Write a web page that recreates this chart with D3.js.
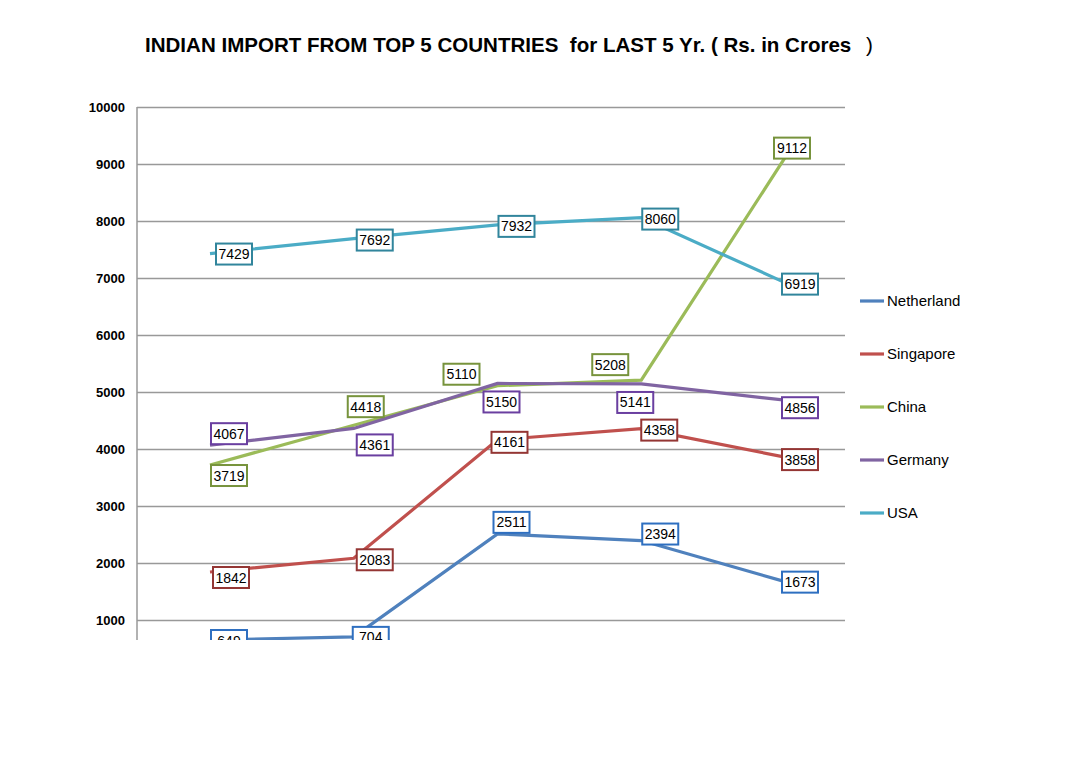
<!DOCTYPE html>
<html>
<head>
<meta charset="utf-8">
<script src="https://d3js.org/d3.v7.min.js"></script>
<style>
html,body{margin:0;background:#fff;}
text{font-family:"Liberation Sans",Arial,sans-serif;}
</style>
</head>
<body>
<script>
var years=["Y1","Y2","Y3","Y4","Y5"];
var seriesNames=["Netherland","Singapore","China","Germany","USA"];
var netherland=[649,704,2511,2394,1673];
var singapore=[1842,2083,4161,4358,3858];
var china=[3719,4418,5110,5208,9112];
var germany=[4067,4361,5150,5141,4856];
var usa=[7429,7692,7932,8060,6919];
var yTicks=[1000,2000,3000,4000,5000,6000,7000,8000,9000,10000];

var colors=["#4F81BD","#C0504D","#9BBB59","#8064A2","#4BACC6"];
var boxColors=["#2E6FC0","#943634","#77933C","#6A3FA0","#31859C"];
// label offsets from the point, per series/point
var offs=[
 [[19,0],[17,0],[14,-12],[19,-7],[15,0]],
 [[21,5],[21,1],[12,2],[18,1],[15,2]],
 [[19,10],[12,-19],[-36,-12],[-31,-16],[7,-10]],
 [[19,-12],[21,16],[4,18],[-6,18],[15,7]],
 [[24,0],[21,1],[19,1],[19,1],[15,1]]
];

var data=[netherland,singapore,china,germany,usa];

var svg=d3.select("body").append("svg").attr("width",1076).attr("height",760);

var x=d3.scalePoint().domain(years).range([210,785]);
var y=d3.scaleLinear().domain([0,10000]).range([677,107]);

svg.append("clipPath").attr("id","clip").append("rect")
 .attr("x",0).attr("y",0).attr("width",1076).attr("height",640);

var g=svg.append("g").attr("clip-path","url(#clip)");

var yAxis=d3.axisLeft(y).tickValues(yTicks).tickFormat(d3.format("d")).tickSize(-708).tickPadding(12);
var ga=g.append("g").attr("transform","translate(137,0)").call(yAxis);
ga.select(".domain").remove();
ga.selectAll(".tick line").attr("stroke","#999").attr("stroke-width",1.5);
ga.selectAll(".tick text").attr("font-size",13).attr("font-weight","bold").attr("fill","#000")
 .attr("font-family","'Liberation Sans',Arial,sans-serif");
g.append("line").attr("x1",137).attr("x2",137).attr("y1",107).attr("y2",640).attr("stroke","#999").attr("stroke-width",1.5);

var line=d3.line().x(function(d,i){return x(years[i]);}).y(function(d){return y(d);});

data.forEach(function(s,k){
 g.append("path").datum(s).attr("d",line).attr("fill","none")
  .attr("stroke",colors[k]).attr("stroke-width",3.2);
});

data.forEach(function(s,k){
 s.forEach(function(v,i){
  var cx=x(years[i])+offs[k][i][0], cy=y(v)+offs[k][i][1];
  var lg=g.append("g");
  lg.append("rect").attr("x",cx-18).attr("y",cy-10).attr("width",36).attr("height",21)
   .attr("fill","#fff").attr("stroke",boxColors[k]).attr("stroke-width",2);
  lg.append("text").attr("x",cx).attr("y",cy+5.5).attr("text-anchor","middle")
   .attr("font-size",14).text(v);
 });
});

var leg=svg.append("g");
seriesNames.forEach(function(n,k){
 var ly=301+k*53;
 leg.append("line").attr("x1",860).attr("x2",884).attr("y1",ly).attr("y2",ly)
  .attr("stroke",colors[k]).attr("stroke-width",3.2);
 leg.append("text").attr("x",887).attr("y",ly+5).attr("font-size",15).text(n);
});

var t=svg.append("text").attr("x",145).attr("y",52).attr("font-size",20.5);
t.append("tspan").attr("font-weight","bold").attr("textLength",712).attr("lengthAdjust","spacingAndGlyphs")
 .text("INDIAN IMPORT FROM TOP 5 COUNTRIES\u00a0\u00a0for LAST 5 Yr. ( Rs. in Crores ");
t.append("tspan").attr("x",866).text(")");
</script>
</body>
</html>
